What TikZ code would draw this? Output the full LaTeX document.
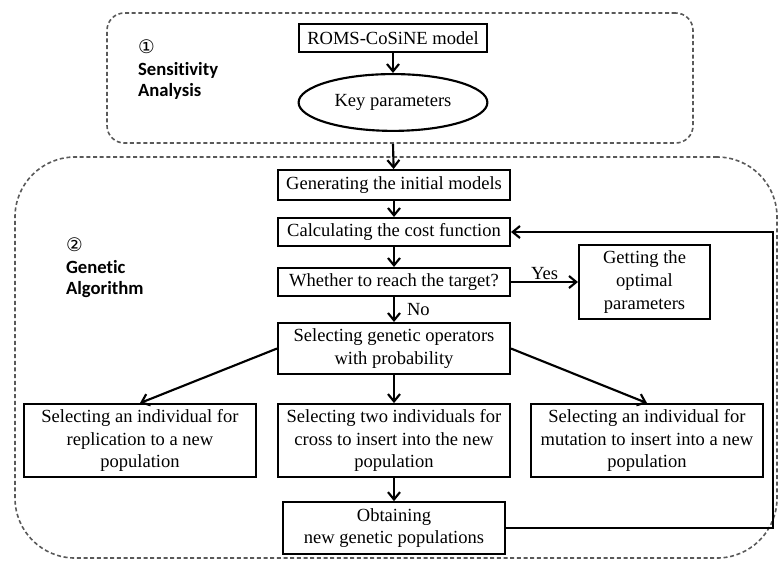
\documentclass[tikz,border=0pt]{standalone}
\usepackage{fontspec}
\setmainfont{Liberation Serif}
\newfontfamily\labfont[Ligatures=NoCommon]{Carlito}
\newfontfamily\circfont{DejaVu Sans}
\usetikzlibrary{arrows.meta}
\usetikzlibrary{shapes.geometric}
\usetikzlibrary{positioning}

\begin{document}
\begin{tikzpicture}[x=0.75pt,y=-0.75pt,
    >={Straight Barb[length=5.5pt,width=9pt]},
    line width=1.6pt,
    box/.style={draw,line width=1.6pt,align=center,inner sep=2pt,font=\fontsize{13.9}{17}\selectfont},
    proc/.style={box,minimum width=173.9pt,minimum height=20.9pt},
    oper/.style={box,minimum width=173.9pt,minimum height=54.7pt},
    grp/.style={draw=black!65,line width=1.2pt,dash pattern=on 3pt off 2pt},
    stage/.style={align=left,inner sep=0pt,font=\labfont\bfseries\fontsize{14}{16}\selectfont}]
    \useasboundingbox (0,0) rectangle (778,562);

    \node[grp,rounded corners=13pt,minimum width=439.5pt,minimum height=97.5pt] (sa) at (400,78) {};
    \node[grp,rounded corners=45pt,minimum width=571.5pt,minimum height=300.75pt] (ga) at (396,357.5) {};
    \node[stage,anchor=north west] (lsa) at (137,39) {{\circfont\mdseries ①}\\Sensitivity\\Analysis};
    \node[stage,anchor=north west] (lga) at (65,237) {{\circfont\mdseries ②}\\Genetic\\Algorithm};

    \node[box,minimum width=140.9pt,minimum height=20.9pt] (roms) at (393,38) {ROMS-CoSiNE model};
    \node[box,ellipse,minimum width=141.6pt,minimum height=42.6pt,below=15pt of roms] (key) {Key parameters};

    \node[proc,minimum height=22.4pt] (gen) at (394,185) {Generating the initial models};
    \node[proc,below=12pt of gen] (calc) {Calculating the cost function};
    \node[proc,below=15pt of calc] (reach) {Whether to reach the target?};
    \node[box,minimum width=98.2pt,minimum height=55.4pt,right=50.25pt of reach] (best) {Getting the\\optimal\\parameters};
    \node[proc,minimum height=38.2pt,below=18.75pt of reach] (sel) {Selecting genetic operators\\with probability};
    \node[oper,below=21pt of sel] (cross) {Selecting two individuals for\\cross to insert into the new\\population};
    \node[oper,left=15pt of cross] (repl) {Selecting an individual for\\replication to a new\\population};
    \node[oper,right=14.25pt of cross] (mut) {Selecting an individual for\\mutation to insert into a new\\population};
    \node[box,minimum width=166.4pt,minimum height=38.9pt,below=17.25pt of cross] (pop) {Obtaining\\new genetic populations};
    \coordinate (fb) at (773,0);

    \draw[->] (roms) -- (key);
    \draw[->] (key.south |- sa.south) -- (gen);
    \draw[->] (gen) -- (calc);
    \draw[->] (calc) -- (reach);
    \path[->] (reach) edge node[above,inner sep=1pt,font=\fontsize{13.9}{17}\selectfont] {Yes} (best);
    \path[->] (reach) edge node[right=9pt,inner sep=0pt,font=\fontsize{13.9}{17}\selectfont] {No} (sel);
    \draw[->] (sel.west) -- (repl.north);
    \draw[->] (sel) -- (cross);
    \draw[->] (sel.east) -- (mut.north);
    \draw[->] (cross) -- (pop);
    \draw[->] (pop.east) -- (pop.east -| fb) |- (calc.east);
\end{tikzpicture}
\end{document}
